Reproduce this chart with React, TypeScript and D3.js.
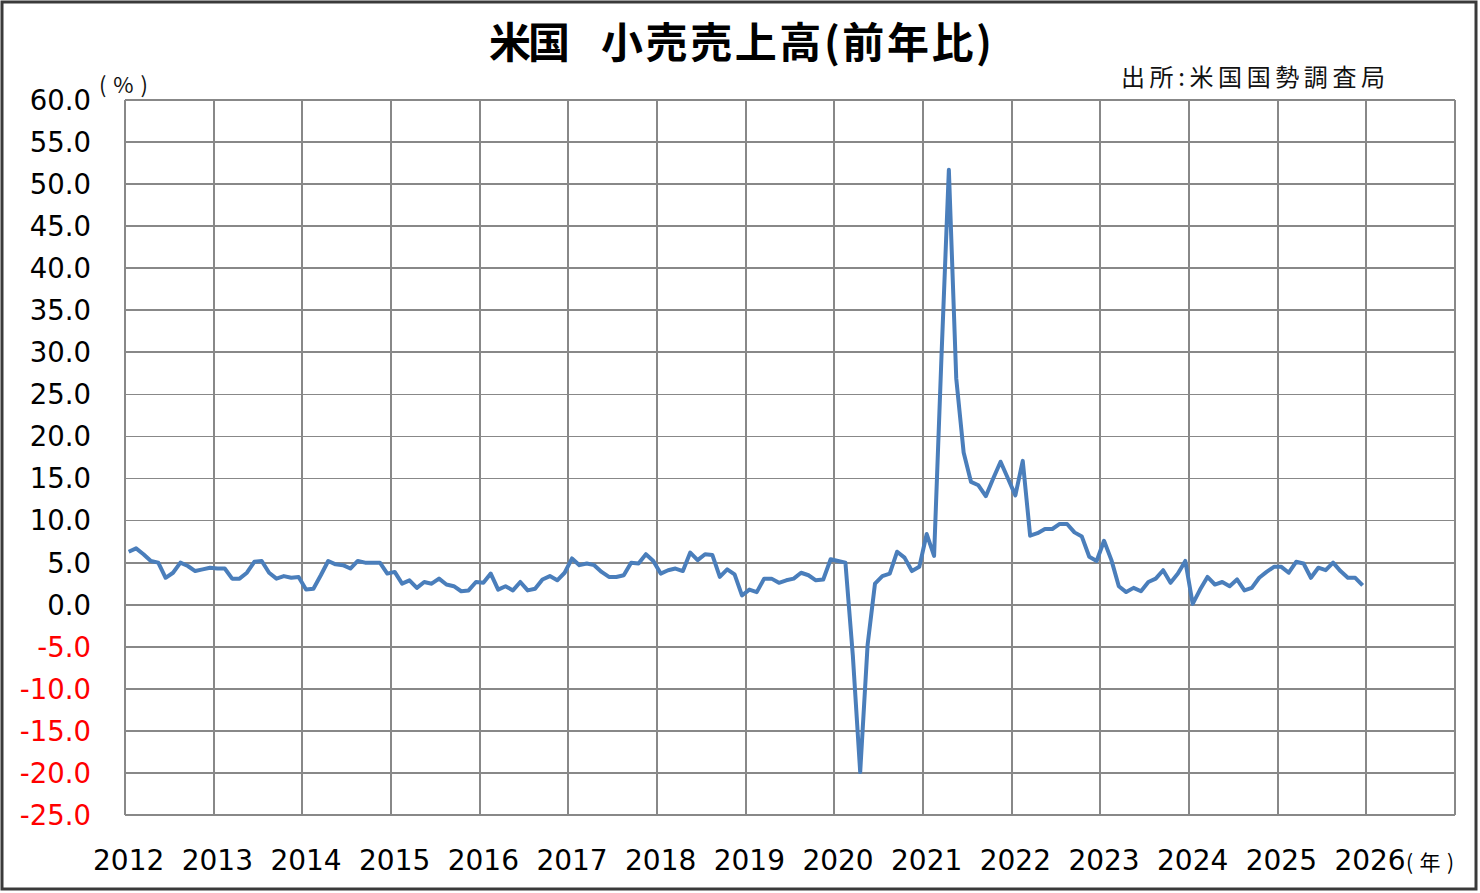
import * as d3 from 'd3'
import { useEffect } from 'react'

// year labels on the category axis (12 monthly slots per year)
const years = [2012, 2013, 2014, 2015, 2016, 2017, 2018, 2019, 2020, 2021, 2022, 2023, 2024, 2025, 2026]
const yTicks = [60, 55, 50, 45, 40, 35, 30, 25, 20, 15, 10, 5, 0, -5, -10, -15, -20, -25]

// US retail sales, % change from a year earlier, Jan..Dec
const v2012 = [6.3, 6.7, 6.0, 5.2, 5.0, 3.2, 3.8, 5.0, 4.6, 4.0, 4.2, 4.4]
const v2013 = [4.3, 4.3, 3.1, 3.1, 3.8, 5.1, 5.2, 3.8, 3.1, 3.4, 3.2, 3.3]
const v2014 = [1.8, 1.9, 3.5, 5.2, 4.8, 4.7, 4.3, 5.2, 5.0, 5.0, 5.0, 3.7]
const v2015 = [3.9, 2.5, 2.9, 2.0, 2.7, 2.5, 3.1, 2.4, 2.2, 1.6, 1.7, 2.7]
const v2016 = [2.6, 3.7, 1.8, 2.2, 1.7, 2.7, 1.7, 1.9, 3.0, 3.4, 2.9, 3.8]
const v2017 = [5.5, 4.7, 4.9, 4.7, 3.9, 3.3, 3.3, 3.5, 5.0, 4.9, 6.0, 5.2]
const v2018 = [3.7, 4.1, 4.3, 4.0, 6.2, 5.3, 6.0, 5.9, 3.3, 4.2, 3.6, 1.1]
const v2019 = [1.8, 1.5, 3.1, 3.1, 2.6, 2.9, 3.1, 3.8, 3.5, 2.9, 3.0, 5.4]
const v2020 = [5.2, 5.0, -6.0, -19.9, -4.8, 2.5, 3.4, 3.7, 6.3, 5.6, 4.0, 4.5]
const v2021 = [8.4, 5.8, 29.5, 51.7, 26.9, 18.1, 14.6, 14.2, 12.9, 15.0, 17.0, 15.0]
const v2022 = [13.0, 17.1, 8.2, 8.5, 9.0, 9.0, 9.6, 9.6, 8.6, 8.1, 5.7, 5.2]
const v2023 = [7.6, 5.3, 2.2, 1.5, 2.0, 1.6, 2.7, 3.1, 4.1, 2.6, 3.7, 5.2]
const v2024 = [0.1, 1.8, 3.3, 2.4, 2.7, 2.2, 3.0, 1.7, 2.0, 3.2, 3.9, 4.5]
const v2025 = [4.5, 3.8, 5.1, 4.9, 3.2, 4.4, 4.1, 5.0, 4.0, 3.2, 3.2, 2.3]

const series = [v2012, v2013, v2014, v2015, v2016, v2017, v2018, v2019, v2020, v2021, v2022, v2023, v2024, v2025]

const W = 1480
const H = 893
const plot = { left: 125, right: 1455, top: 100, bottom: 815 }
const numFont = '"DejaVu Sans", Verdana, sans-serif'
const jpFont = '"Noto Sans CJK JP", sans-serif'
const gridColor = '#888888'

type Pt = { key: string, v: number }

export default function App(){
  useEffect(()=>{ document.body.style.margin = '0' }, [])

  const months = years.flatMap(yr => d3.range(12).map(m => `${yr}-${m+1}`))
  const x = d3.scaleBand<string>().domain(months).range([plot.left, plot.right])
  const y = d3.scaleLinear().domain([-25, 60]).range([plot.bottom, plot.top])
  const cx = (k: string) => (x(k) ?? 0) + x.bandwidth()/2

  const pts: Pt[] = series.flatMap((vals, i) => vals.map((v, m) => ({ key: `${years[i]}-${m+1}`, v })))
  const path = d3.line<Pt>().x(d => cx(d.key)).y(d => y(d.v))(pts) ?? ''

  return (
    <svg width={W} height={H} style={{ display: 'block', background: '#fff' }}>
      <rect x={2} y={2} width={W-6} height={H-6} fill="#fff" stroke="#3a3a3a" strokeWidth={3} />

      {/* title + source */}
      <text x={489} y={58} fontFamily={jpFont} fontWeight={700} fontSize={42} textLength={81} lengthAdjust="spacing">米国</text>
      <text x={601} y={58} fontFamily={jpFont} fontWeight={700} fontSize={42} textLength={391} lengthAdjust="spacing">小売売上高(前年比)</text>
      <text x={1121} y={86} fontFamily={jpFont} fontSize={24} fill="#111" textLength={264} lengthAdjust="spacing">出所:米国国勢調査局</text>
      <text x={99} y={93} fontFamily={jpFont} fontSize={22} fill="#111" textLength={49} lengthAdjust="spacing">(%)</text>

      {/* grid */}
      <g stroke={gridColor} strokeWidth={1.8} shapeRendering="crispEdges">
        {yTicks.map(t => <line key={`h${t}`} x1={plot.left} x2={plot.right} y1={y(t)} y2={y(t)} />)}
        {years.map(yr => <line key={`v${yr}`} x1={x(`${yr}-1`)} x2={x(`${yr}-1`)} y1={plot.top} y2={plot.bottom} />)}
        <line x1={plot.right} x2={plot.right} y1={plot.top} y2={plot.bottom} />
      </g>

      {/* y tick labels */}
      <g fontFamily={numFont} fontSize={27.5} textAnchor="end">
        {yTicks.map(t => (
          <text key={t} x={91} y={y(t)} dy="0.36em" fill={t < 0 ? '#ff0000' : '#000'}>{t.toFixed(1)}</text>
        ))}
      </g>

      {/* x tick labels */}
      <g fontFamily={numFont} fontSize={28} textAnchor="middle">
        {years.map(yr => <text key={yr} x={cx(`${yr}-1`)} y={870}>{yr}</text>)}
      </g>
      <text x={1406} y={870} fontFamily={jpFont} fontSize={21} textLength={48} lengthAdjust="spacing">(年)</text>

      <path d={path} fill="none" stroke="#4a7ebb" strokeWidth={4} strokeLinejoin="round" />
    </svg>
  )
}
